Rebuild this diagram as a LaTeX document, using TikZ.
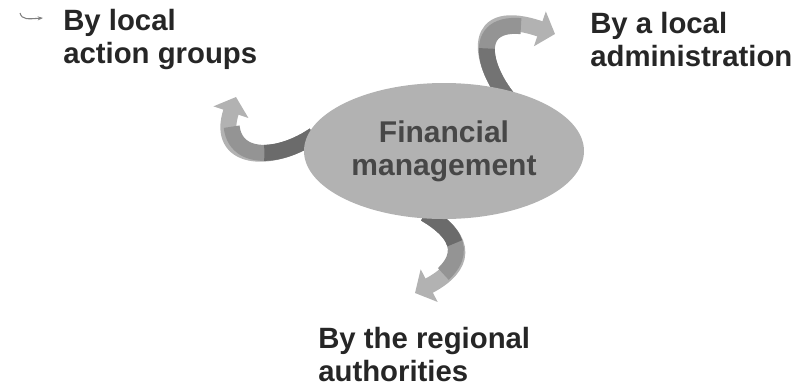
\documentclass[tikz,border=0pt]{standalone}
\usepackage{fontspec}
\setmainfont{Liberation Sans}
\usetikzlibrary{arrows.meta,shapes.geometric,backgrounds}
\begin{document}
\begin{tikzpicture}[x=0.75pt,y=-0.75pt,
  lbl/.style={font=\bfseries\fontsize{22}{24.75}\selectfont, text=black!85,
    align=left, anchor=north west, inner sep=0pt},
  swoosh/.style={line width=12pt, draw=black!30,
    -{Triangle[width=27pt,length=12pt]}, shorten <=-8pt},
  darker/.style={line width=12pt, draw=black!#1, shorten <=-8pt}]
\useasboundingbox (0,0) rectangle (807,387);

% centre
\node[ellipse, fill=black!30, minimum width=210pt, minimum height=102pt, inner sep=0pt,
  align=center, font=\bfseries\fontsize{22.5}{24.75}\selectfont, text=black!72] (fm) at (444,151) {Financial\\management};

% the three ways
\node[lbl] (grp) at (63,9) {By local\\action groups};
\node[lbl] (adm) at (590,12) {By a local\\administration};
\node[lbl] (reg) at (318,327) {By the regional\\authorities};

\coordinate (tipadm) at (555,34);
\coordinate (tipgrp) at (236,97);
\coordinate (tipreg) at (415,293);

\begin{scope}[on background layer]
\draw[swoosh] (fm.48) .. controls (478,60) and (470,5) .. (tipadm);
\draw[darker=42, dash pattern=on 75pt off 900pt] (fm.48) .. controls (478,60) and (470,5) .. (tipadm);
\draw[darker=55, dash pattern=on 40pt off 900pt] (fm.48) .. controls (478,60) and (470,5) .. (tipadm);

\draw[swoosh] (fm.176) .. controls (270,165) and (215,160) .. (tipgrp);
\draw[darker=42, dash pattern=on 75pt off 900pt] (fm.176) .. controls (270,165) and (215,160) .. (tipgrp);
\draw[darker=58, dash pattern=on 40pt off 900pt] (fm.176) .. controls (270,165) and (215,160) .. (tipgrp);

\draw[swoosh] (fm.262) .. controls (470,240) and (465,267) .. (tipreg);
\draw[darker=42, dash pattern=on 58pt off 900pt] (fm.262) .. controls (470,240) and (465,267) .. (tipreg);
\draw[darker=58, dash pattern=on 32pt off 900pt] (fm.262) .. controls (470,240) and (465,267) .. (tipreg);
\end{scope}

% bullet
\draw[black!50, line width=0.8pt, -{Stealth[length=4pt]}] (20,13) .. controls (22,20) and (28,19) .. (43,18);
\end{tikzpicture}
\end{document}
